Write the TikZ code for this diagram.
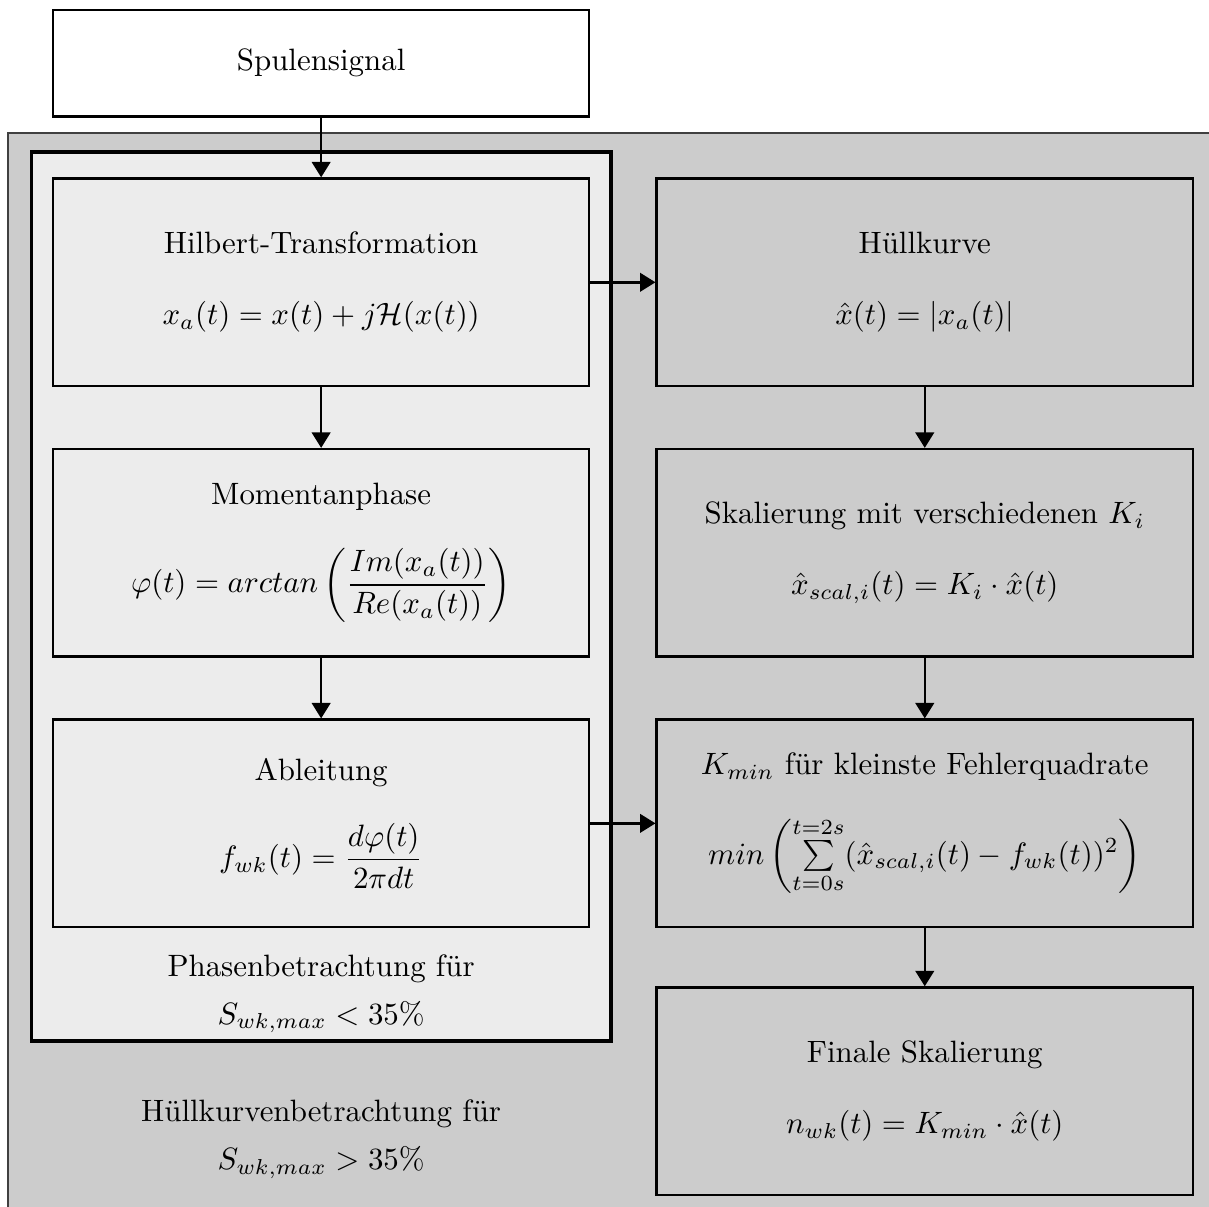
\documentclass[tikz,border=0pt]{standalone}
\usepackage{amsmath,amssymb}
\usepackage{tikz}
\usetikzlibrary{positioning,fit,backgrounds,calc,arrows.meta}

\begin{document}
\begin{tikzpicture}[
  box/.style={draw, thick, minimum width=6.1cm, minimum height=2.36cm, align=center},
  phasebox/.style={box, fill=gray!15},
  huellbox/.style={box, fill=gray!40},
  pfeil/.style={-{Triangle[length=5pt,width=6pt]}, thick}
  ]
  % linke Spalte: Phasenbetrachtung
  \node[phasebox] (hilbert) {Hilbert-Transformation\\[11pt]
    $x_a(t) = x(t) + j\mathcal{H}(x(t))$};
  \node[phasebox, below=0.69cm of hilbert] (phase) {Momentanphase\\[11pt]
    $\varphi(t) = arctan\left(\dfrac{Im(x_a(t))}{Re(x_a(t))}\right)$};
  \node[phasebox, below=0.69cm of phase] (abl) {Ableitung\\[11pt]
    $f_{wk}(t) = \dfrac{d\varphi(t)}{2\pi dt}$};
  \node[box, fill=white, minimum height=1.21cm, above=0.68cm of hilbert] (spule) {Spulensignal};
  \node[align=center, inner ysep=2.3pt, below=0.21cm of abl] (phtext) {Phasenbetrachtung f\"ur\\[3.5pt]
    $S_{wk,max} < 35\%$};
  \coordinate[above=0.29cm of hilbert.north] (ptop);

  % rechte Spalte: Huellkurvenbetrachtung
  \node[huellbox, right=0.74cm of hilbert] (huell) {H\"ullkurve\\[11pt]
    $\hat{x}(t) = |x_a(t)|$};
  \node[huellbox, below=0.69cm of huell] (skal) {Skalierung mit verschiedenen $K_i$\\[11pt]
    $\hat{x}_{scal,i}(t) = K_i \cdot \hat{x}(t)$};
  \node[huellbox, below=0.69cm of skal] (kmin) {$K_{min}$ f\"ur kleinste Fehlerquadrate\\[11pt]
    $min\left(\sum\limits_{t=0s}^{t=2s}(\hat{x}_{scal,i}(t) - f_{wk}(t))^2\right)$};
  \node[huellbox, below=0.66cm of kmin] (final) {Finale Skalierung\\[11pt]
    $n_{wk}(t) = K_{min} \cdot \hat{x}(t)$};

  \useasboundingbox ($(hilbert.west |- spule.north)+(-0.59,0.10)$) rectangle
    ($(huell.east |- final.south)+(0.17,-0.12)$);

  \begin{scope}[on background layer]
    \node[fit=(hilbert)(final), inner sep=0.5cm, draw=black!75, semithick, fill=gray!40] (aussen) {};
    \node[fit=(ptop)(hilbert)(phtext), inner xsep=0.23cm, inner ysep=0pt, draw, very thick, fill=gray!15] (innen) {};
  \end{scope}
  \node[align=center, below=0.53cm of innen] (hktext) {H\"ullkurvenbetrachtung f\"ur\\[3.5pt]
    $S_{wk,max} > 35\%$};

  % Pfeile
  \draw[pfeil] (spule) -- (hilbert);
  \draw[pfeil] (hilbert) -- (phase);
  \draw[pfeil] (phase) -- (abl);
  \draw[pfeil] (hilbert) -- (huell);
  \draw[pfeil] (abl) -- (kmin);
  \draw[pfeil] (huell) -- (skal);
  \draw[pfeil] (skal) -- (kmin);
  \draw[pfeil] (kmin) -- (final);
\end{tikzpicture}
\end{document}
